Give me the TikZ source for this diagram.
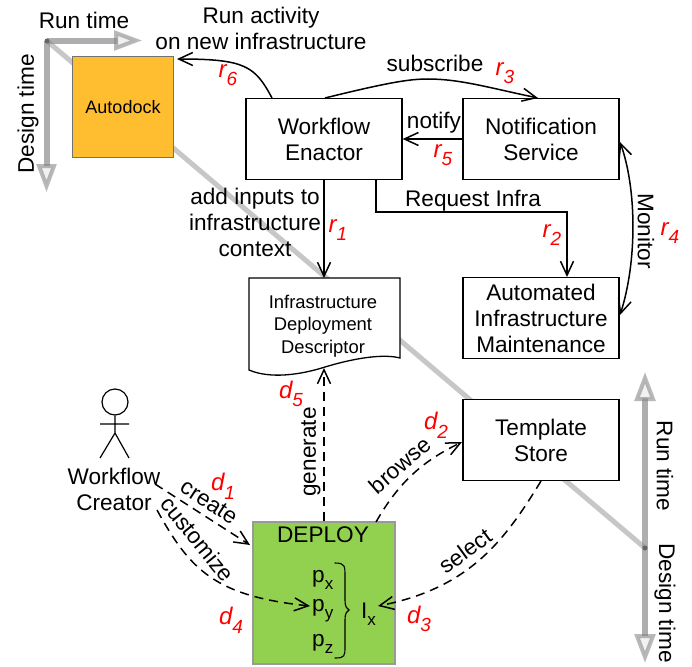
\documentclass[tikz,border=0pt]{standalone}
\usepackage{fontspec}
\setmainfont{Liberation Sans}
\usetikzlibrary{arrows.meta,decorations.pathreplacing}
\definecolor{redlbl}{RGB}{255,0,0}
\tikzset{
  boxn/.style={draw=black,line width=1.3pt,fill=white,align=center,inner sep=0pt,font=\fontsize{22.6}{26}\selectfont},
  lbl/.style={font=\fontsize{22.6}{26}\selectfont,align=center,inner sep=0pt},
  rlbl/.style={font=\fontsize{24}{24}\selectfont\itshape,text=redlbl,inner sep=0pt},
  barb/.tip={Straight Barb[length=14pt,width=13pt,line width=1.5pt]},
  conn/.style={line width=1.5pt,-barb},
  dconn/.style={conn,dash pattern=on 9pt off 6pt},
  axis/.style={line width=6pt,draw=black!45,opacity=.7},
  axhead/.style={draw=black!50,line width=4pt,fill=black!10,opacity=.55,line join=miter},
  diag/.style={line width=5pt,draw=black!22},
}
\newcommand{\subs}[2]{#1\raisebox{-.3em}{\fontsize{17}{17}\selectfont #2}}
\newcommand{\rsub}[2]{#1\raisebox{-.36em}{\fontsize{19}{19}\selectfont #2}}
\begin{document}
\begin{tikzpicture}[x=1pt,y=-1pt]
\useasboundingbox (0,0) rectangle (692,666);
% diagonal
\coordinate (dA) at (47,41);
\coordinate (dB) at (645,548);
\draw[diag] (dA) -- (dB);
% axes
\coordinate (ax1) at (47,41);
\coordinate (ax1r) at (118,41);
\coordinate (ax1d) at (47,166);
\draw[axis] (ax1) -- (ax1r);
\draw[axis] (ax1) -- (ax1d);
\draw[axhead] (116,33) -- (136,40.5) -- (116,48) -- cycle;
\draw[axhead] (39,166) -- (54,166) -- (46.5,186) -- cycle;
\coordinate (ax2) at (645,548);
\coordinate (ax2u) at (645,398);
\coordinate (ax2d) at (645,636);
\draw[axis] (ax2) -- (ax2u);
\draw[axis] (ax2) -- (ax2d);
\draw[axhead] (637,399) -- (653,399) -- (645,378) -- cycle;
\draw[axhead] (637,636) -- (653,636) -- (645,657) -- cycle;
\fill[black!60] (ax1) circle (2.5pt);
\fill[black!60] (ax2) circle (2.5pt);
% axis labels
\node[lbl] (lrt1) at (84,20) {Run time};
\node[lbl,rotate=90] (ldt1) at (28,114) {Design time};
\node[lbl,rotate=-90] (lrt2) at (665,466) {Run time};
\node[lbl,rotate=-90] (ldt2) at (665,603) {Design time};
% boxes
\node[draw=black!55,line width=1.3pt,fill={rgb,255:red,255;green,189;blue,48},minimum width=101pt,minimum height=101pt,inner sep=0pt,font=\fontsize{18}{22}\selectfont] (auto) at (123,107) {Autodock};
\node[boxn,minimum width=156pt,minimum height=81pt] (enact) at (324,139) {Workflow\\Enactor};
\node[boxn,minimum width=156pt,minimum height=81pt] (notif) at (541,139) {Notification\\Service};
\node[boxn,minimum width=156pt,minimum height=81pt] (maint) at (541,318) {Automated\\Infrastructure\\Maintenance};
\node[boxn,minimum width=156pt,minimum height=81pt] (store) at (541,440) {Template\\Store};
% document
\draw[line width=1.3pt,fill=white] (249,278) -- (400,278) -- (400,358)
  .. controls (385,354) and (358,357) .. (325,367) .. controls (300,375) and (270,379) .. (249,370) -- cycle;
\node[lbl,font=\fontsize{18.4}{22.5}\selectfont] (doc) at (323,326) {Infrastructure\\Deployment\\Descriptor};
\coordinate (docB) at (324,368);
\coordinate (docT) at (324,278);
% deploy
\node[draw=black!40,line width=1.3pt,fill={rgb,255:red,146;green,208;blue,80},minimum width=142pt,minimum height=142pt,inner sep=0pt] (deploy) at (324,593) {};
\node[lbl] (dtitle) at (323,535) {DEPLOY};
\node[lbl,anchor=west] (px) at (312,580) {\subs{p}{x}};
\node[lbl,anchor=west] (py) at (312,611) {\subs{p}{y}};
\node[lbl,anchor=west] (pz) at (312,644) {\subs{p}{z}};
\node[lbl,anchor=west] (ix) at (361,614) {\subs{I}{x}};
\draw[line width=1.1pt,line cap=round] (335,563) .. controls (345,563) and (345,566) .. (345,576) -- (345,600) .. controls (345,607) and (347,609) .. (349,610) .. controls (347,611) and (345,613) .. (345,620) -- (345,646) .. controls (345,656) and (345,658) .. (335,658);
% actor
\node[draw=black,line width=1.2pt,circle,minimum size=26pt,inner sep=0pt] (head) at (115,402) {};
\coordinate (neck) at (115,415);
\coordinate (hip) at (115,433);
\coordinate (armL) at (100,424);
\coordinate (armR) at (129,424);
\coordinate (legL) at (100,458);
\coordinate (legR) at (129,458);
\draw[line width=1.2pt] (head.south) -- (hip) (armL) -- (armR) (legL) -- (hip) -- (legR);
\node[lbl] (creator) at (114,489) {Workflow\\Creator};
% connectors
\coordinate (e6) at (272,98);
\coordinate (a6) at (177,59);
\draw[conn] (e6) .. controls (255,66) and (245,59) .. (a6);
\coordinate (e3) at (325,98);
\coordinate (n3) at (538,98);
\draw[conn] (e3) .. controls (390,82) and (410,79) .. (428,79) .. controls (460,79) and (490,88) .. (n3);
\draw[conn] (notif.west |- 0,139) -- (enact.east |- 0,139);
\coordinate (e2) at (376,179);
\coordinate (m2) at (567,277);
\draw[conn] (e2) |- (567,212) -- (m2);
\draw[conn] (enact.south) -- (docT);
\coordinate (n4) at (620,142);
\coordinate (m4) at (620,315);
\draw[conn,barb-barb] (n4) .. controls (637,190) and (637,262) .. (m4);
\coordinate (cr1) at (155,484);
\coordinate (dp1) at (250,545);
\draw[dconn] (cr1) -- (dp1);
\coordinate (cr2) at (157,510);
\draw[dconn] (cr2) .. controls (190,570) and (215,596) .. (310,606);
\draw[dconn] (deploy.north -| docB) -- (docB);
\coordinate (dp2) at (376,522);
\coordinate (st2) at (462,442);
\draw[dconn] (dp2) .. controls (400,480) and (425,460) .. (st2);
\coordinate (st3) at (541,481);
\coordinate (ixr) at (378,606);
\draw[dconn] (st3) .. controls (505,540) and (470,588) .. (ixr);
% labels
\node[lbl] (l1) at (261,28) {Run activity\\on new infrastructure};
\node[lbl] (l2) at (435,63) {subscribe};
\node[lbl] (l3) at (434,123) {notify};
\node[lbl] (l4) at (473,201) {Request Infra};
\node[lbl] (l5) at (255,222) {add inputs to\\infrastructure\\context};
\node[lbl,rotate=-90] (l6) at (646,231) {Monitor};
\node[lbl,rotate=90] (l7) at (311,452) {generate};
\node[lbl,rotate=41] (l8) at (400,465) {browse};
\node[lbl,rotate=-33] (l9) at (209,502) {create};
\node[lbl,rotate=-51] (l10) at (198,539) {customize};
\node[lbl,rotate=36] (l11) at (465,551) {select};
% red labels
\node[rlbl] (r1) at (338,230) {\rsub{r}{1}};
\node[rlbl] (r2) at (552,235) {\rsub{r}{2}};
\node[rlbl] (r3) at (505,73) {\rsub{r}{3}};
\node[rlbl] (r4) at (670,233) {\rsub{r}{4}};
\node[rlbl] (r5) at (443,155) {\rsub{r}{5}};
\node[rlbl] (r6) at (228,75) {\rsub{r}{6}};
\node[rlbl] (d1) at (223,486) {\rsub{d}{1}};
\node[rlbl] (d2) at (436,425) {\rsub{d}{2}};
\node[rlbl] (d3) at (419,619) {\rsub{d}{3}};
\node[rlbl] (d4) at (231,620) {\rsub{d}{4}};
\node[rlbl] (d5) at (291,394) {\rsub{d}{5}};
\end{tikzpicture}
\end{document}
